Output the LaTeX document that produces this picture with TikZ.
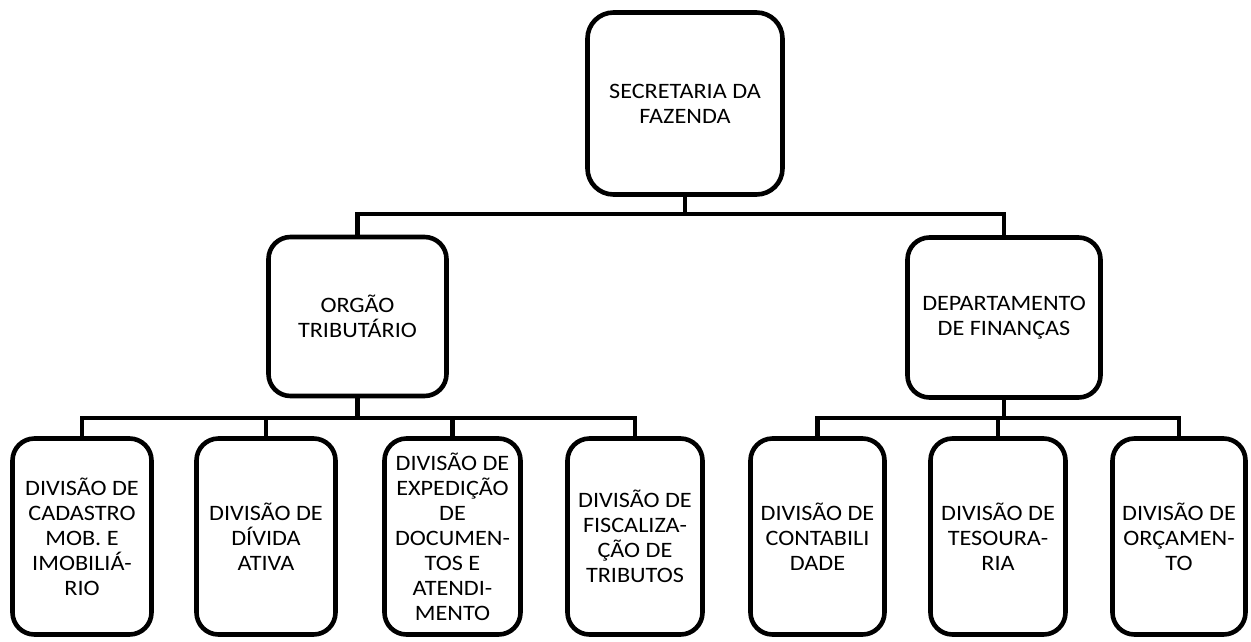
\documentclass[tikz,border=0pt]{standalone}
\usepackage{fontspec}
\setmainfont{Carlito}[FakeStretch=1.1]
\begin{document}
\begin{tikzpicture}[x=1pt,y=-1pt,
  box/.style={draw=black, line width=4.6pt, rounded corners=22pt, fill=white,
    align=center, inner sep=0pt, font=\fontsize{22}{25}\selectfont},
  conn/.style={draw=black, line width=4.6pt}]
\useasboundingbox (0,0) rectangle (1251,641);
\node[box, rounded corners=26pt, minimum width=195pt, minimum height=182pt] (top) at (685,103.5) {SECRETARIA DA\\FAZENDA};
\node[box, minimum width=178pt, minimum height=159pt] (org) at (357.5,316.5) {ORGÃO\\TRIBUTÁRIO};
\node[box, minimum width=193pt, minimum height=160pt] (dep) at (1004,317.5) {DEPARTAMENTO\\DE FINANÇAS};
\coordinate (bus1) at (0,214);
\coordinate (bus2) at (0,418);
\node[box, minimum width=139pt, minimum height=196pt] (l1) at (82,536.5) {DIVISÃO DE\\CADASTRO\\MOB. E\\IMOBILIÁ-\\RIO};
\node[box, minimum width=139pt, minimum height=196pt] (l2) at (266,536.5) {DIVISÃO DE\\DÍVIDA\\ATIVA};
\node[box, minimum width=136pt, minimum height=196pt] (l3) at (452.5,536.5) {DIVISÃO DE\\EXPEDIÇÃO\\DE\\DOCUMEN-\\TOS E\\ATENDI-\\MENTO};
\node[box, minimum width=135pt, minimum height=196pt] (l4) at (635,536.5) {DIVISÃO DE\\FISCALIZA-\\ÇÃO DE\\TRIBUTOS};
\node[box, minimum width=134pt, minimum height=196pt] (l5) at (817.5,536.5) {DIVISÃO DE\\CONTABILI\\DADE};
\node[box, minimum width=135pt, minimum height=196pt] (l6) at (998,536.5) {DIVISÃO DE\\TESOURA-\\RIA};
\node[box, minimum width=133pt, minimum height=196pt] (l7) at (1179,536.5) {DIVISÃO DE\\ORÇAMEN-\\TO};
\draw[conn] (top.south) -- (top.south |- bus1) -| (org.north);
\draw[conn] (top.south |- bus1) -| (dep.north);
\draw[conn] (org.south) -- (org.south |- bus2) -| (l1.north);
\draw[conn] (org.south |- bus2) -| (l2.north);
\draw[conn] (org.south |- bus2) -| (l3.north);
\draw[conn] (org.south |- bus2) -| (l4.north);
\draw[conn] (dep.south) -- (dep.south |- bus2) -| (l5.north);
\draw[conn] (dep.south |- bus2) -| (l6.north);
\draw[conn] (dep.south |- bus2) -| (l7.north);
\end{tikzpicture}
\end{document}
